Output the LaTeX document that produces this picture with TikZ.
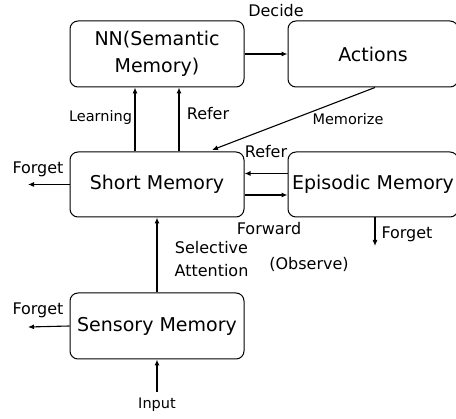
\documentclass[tikz,border=0pt]{standalone}
\usepackage{fontspec}
\setmainfont{DejaVu Sans}
\usetikzlibrary{arrows.meta}
\begin{document}
\begin{tikzpicture}[x=1pt,y=-1pt,
  box/.style={draw,line width=1pt,rounded corners=8pt,minimum height=66pt,align=center,inner sep=0pt,font=\fontsize{19}{27}\selectfont},
  lblL/.style={inner sep=0pt,font=\fontsize{16}{18}\selectfont},
  lblS/.style={inner sep=0pt,font=\fontsize{14.5}{17}\selectfont},
  arr/.style={line width=1.1pt,-{Latex[length=6pt,width=5pt]}}]
\useasboundingbox (0,0) rectangle (456,419);
\node[box,minimum width=174pt] (nn) at (157,54) {NN(Semantic\\Memory)};
\node[box,minimum width=170pt] (act) at (373,54) {Actions};
\node[box,minimum width=174pt,minimum height=65pt] (short) at (157,184.5) {Short Memory};
\node[box,minimum width=170pt,minimum height=65pt] (epi) at (373,184.5) {Episodic Memory};
\node[box,minimum width=174pt] (sens) at (157,326) {Sensory Memory};
\coordinate (f1) at (28,184.5);
\coordinate (f2) at (28,327);
\coordinate (f3) at (375,246);
\coordinate (in) at (157,392);
\coordinate (mem) at (212,150);
% arrows
\draw[arr] (nn.east) -- (act.west);
\draw[arr] ([xshift=-22pt]short.north) -- ([xshift=-22pt]nn.south);
\draw[arr] ([xshift=22pt]short.north) -- ([xshift=22pt]nn.south);
\draw[arr] ([xshift=2pt]act.south) -- (mem);
\draw[arr] ([yshift=11pt]epi.west) -- ([yshift=11pt]short.east);
\draw[arr] ([yshift=-10.5pt]short.east) -- ([yshift=-10.5pt]epi.west);
\draw[arr] (short.west) -- (f1);
\draw[arr] ([xshift=2pt]epi.south) -- (f3);
\draw[arr] (sens.north) -- (short.south);
\draw[arr] (sens.west) -- (f2);
\draw[arr] (in) -- (sens.south);
% labels
\node[lblL] (l1) at (276,10.5) {Decide};
\node[lblS] (l2) at (100.5,118) {Learning};
\node[lblL] (l3) at (208,114) {Refer};
\node[lblS] (l4) at (348,119) {Memorize};
\node[lblL] (l5) at (38,169) {Forget};
\node[lblL] (l6) at (266,151.5) {Refer};
\node[lblL] (l7) at (269,229) {Forward};
\node[lblL] (l8) at (407,234.5) {Forget};
\node[lblL] (l9) at (211.5,247.5) {Selective};
\node[lblL] (l10) at (211.5,271) {Attention};
\node[lblL] (l11) at (309,264) {(Observe)};
\node[lblL] (l12) at (38,310) {Forget};
\node[lblS] (l13) at (157,405) {Input};
\end{tikzpicture}
\end{document}
